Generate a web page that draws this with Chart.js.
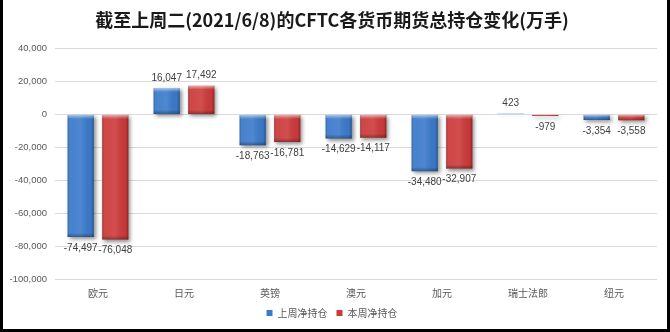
<!DOCTYPE html>
<html>
<head>
<meta charset="utf-8">
<script src="https://cdn.jsdelivr.net/npm/chart.js@4.4.0/dist/chart.umd.min.js"></script>
<style>
  html, body { margin: 0; padding: 0; background: #fff; }
  #frame {
    width: 670px; height: 332px; box-sizing: border-box;
    border-left: 3px solid #000; border-right: 3px solid #000; border-bottom: 3px solid #000;
    background: #fff;
  }
  #frame canvas { display: block; }
</style>
</head>
<body>
<div id="frame"><canvas id="cftc" width="664" height="329"></canvas></div>
<script>
const currencies = ['欧元', '日元', '英镑', '澳元', '加元', '瑞士法郎', '纽元'];
const lastWeek = [-74497, 16047, -18763, -14629, -34480, 423, -3354];
const thisWeek = [-76048, 17492, -16781, -14117, -32907, -979, -3558];
const seriesNames = ['上周净持仓', '本周净持仓'];
const yMin = -100000;
const yMax = 40000;
const yStep = 20000;

const textColor = '#595959';
const numFont = '"Liberation Sans", Arial, sans-serif';
const cjkFont = '"Noto Sans CJK SC", sans-serif';

// shadow under the bars, plus a bevel-like shading on top of each bar
const bevelBars = {
  id: 'bevelBars',
  beforeDatasetsDraw(chart) {
    const ctx = chart.ctx;
    ctx.save();
    ctx.shadowColor = 'rgba(0,0,0,0.45)';
    ctx.shadowBlur = 4;
    ctx.shadowOffsetX = 2;
    ctx.shadowOffsetY = 2;
  },
  afterDatasetsDraw(chart) {
    const ctx = chart.ctx;
    ctx.restore();
    chart.data.datasets.forEach((ds, i) => {
      chart.getDatasetMeta(i).data.forEach(bar => {
        const left = bar.x - bar.width / 2;
        const top = Math.min(bar.y, bar.base);
        const h = Math.abs(bar.base - bar.y);
        const side = ctx.createLinearGradient(left, 0, left + bar.width, 0);
        side.addColorStop(0, 'rgba(0,0,0,0.28)');
        side.addColorStop(0.1, 'rgba(255,255,255,0.06)');
        side.addColorStop(0.5, 'rgba(255,255,255,0.10)');
        side.addColorStop(0.9, 'rgba(0,0,0,0.03)');
        side.addColorStop(1, 'rgba(0,0,0,0.32)');
        ctx.fillStyle = side;
        ctx.fillRect(left, top, bar.width, h);
        const bh = Math.min(4, h / 2);
        const topShade = ctx.createLinearGradient(0, top, 0, top + bh);
        topShade.addColorStop(0, 'rgba(255,255,255,0.55)');
        topShade.addColorStop(1, 'rgba(255,255,255,0)');
        ctx.fillStyle = topShade;
        ctx.fillRect(left, top, bar.width, bh);
        const botShade = ctx.createLinearGradient(0, top + h - bh, 0, top + h);
        botShade.addColorStop(0, 'rgba(0,0,0,0)');
        botShade.addColorStop(1, 'rgba(0,0,0,0.32)');
        ctx.fillStyle = botShade;
        ctx.fillRect(left, top + h - bh, bar.width, bh);
      });
    });
  }
};

// value labels at the outer end of each bar
const valueLabels = {
  id: 'valueLabels',
  afterDatasetsDraw(chart) {
    const ctx = chart.ctx;
    ctx.save();
    ctx.font = '10px ' + numFont;
    ctx.fillStyle = '#404040';
    ctx.textAlign = 'center';
    ctx.textBaseline = 'middle';
    chart.data.datasets.forEach((ds, i) => {
      chart.getDatasetMeta(i).data.forEach((bar, j) => {
        const v = ds.data[j];
        const y = v >= 0 ? bar.y - 10 : bar.y + 11;
        ctx.fillText(v.toLocaleString('en-US'), bar.x, y);
      });
    });
    ctx.restore();
  }
};

new Chart(document.getElementById('cftc'), {
  type: 'bar',
  data: {
    labels: currencies,
    datasets: [
      { label: seriesNames[0], data: lastWeek, backgroundColor: '#3b7acb' },
      { label: seriesNames[1], data: thisWeek, backgroundColor: '#cd3a3a' }
    ]
  },
  options: {
    responsive: false,
    animation: false,
    devicePixelRatio: 1,
    categoryPercentage: 0.805,
    barPercentage: 0.755,
    layout: { padding: { left: 4, right: 10, top: 0, bottom: 1 } },
    scales: {
      x: {
        grid: { display: false },
        border: { display: false },
        ticks: { color: textColor, font: { family: cjkFont, size: 10 }, padding: 0 }
      },
      y: {
        min: yMin,
        max: yMax,
        grid: { color: '#d9d9d9', drawTicks: false },
        border: { display: false },
        ticks: {
          stepSize: yStep,
          color: textColor,
          padding: 8,
          font: { family: numFont, size: 9.5 },
          callback: v => v.toLocaleString('en-US')
        },
        afterFit(scale) { scale.width = 48; }
      }
    },
    plugins: {
      title: {
        display: true,
        text: '截至上周二(2021/6/8)的CFTC各货币期货总持仓变化(万手)',
        color: '#1a1a1a',
        font: { family: cjkFont, size: 18, weight: 'bold' },
        padding: { top: 9, bottom: 18 }
      },
      legend: {
        position: 'bottom',
        labels: {
          boxWidth: 6,
          boxHeight: 6,
          padding: 9,
          color: textColor,
          font: { family: cjkFont, size: 10 }
        }
      },
      tooltip: { enabled: false }
    }
  },
  plugins: [bevelBars, valueLabels]
});
</script>
</body>
</html>
